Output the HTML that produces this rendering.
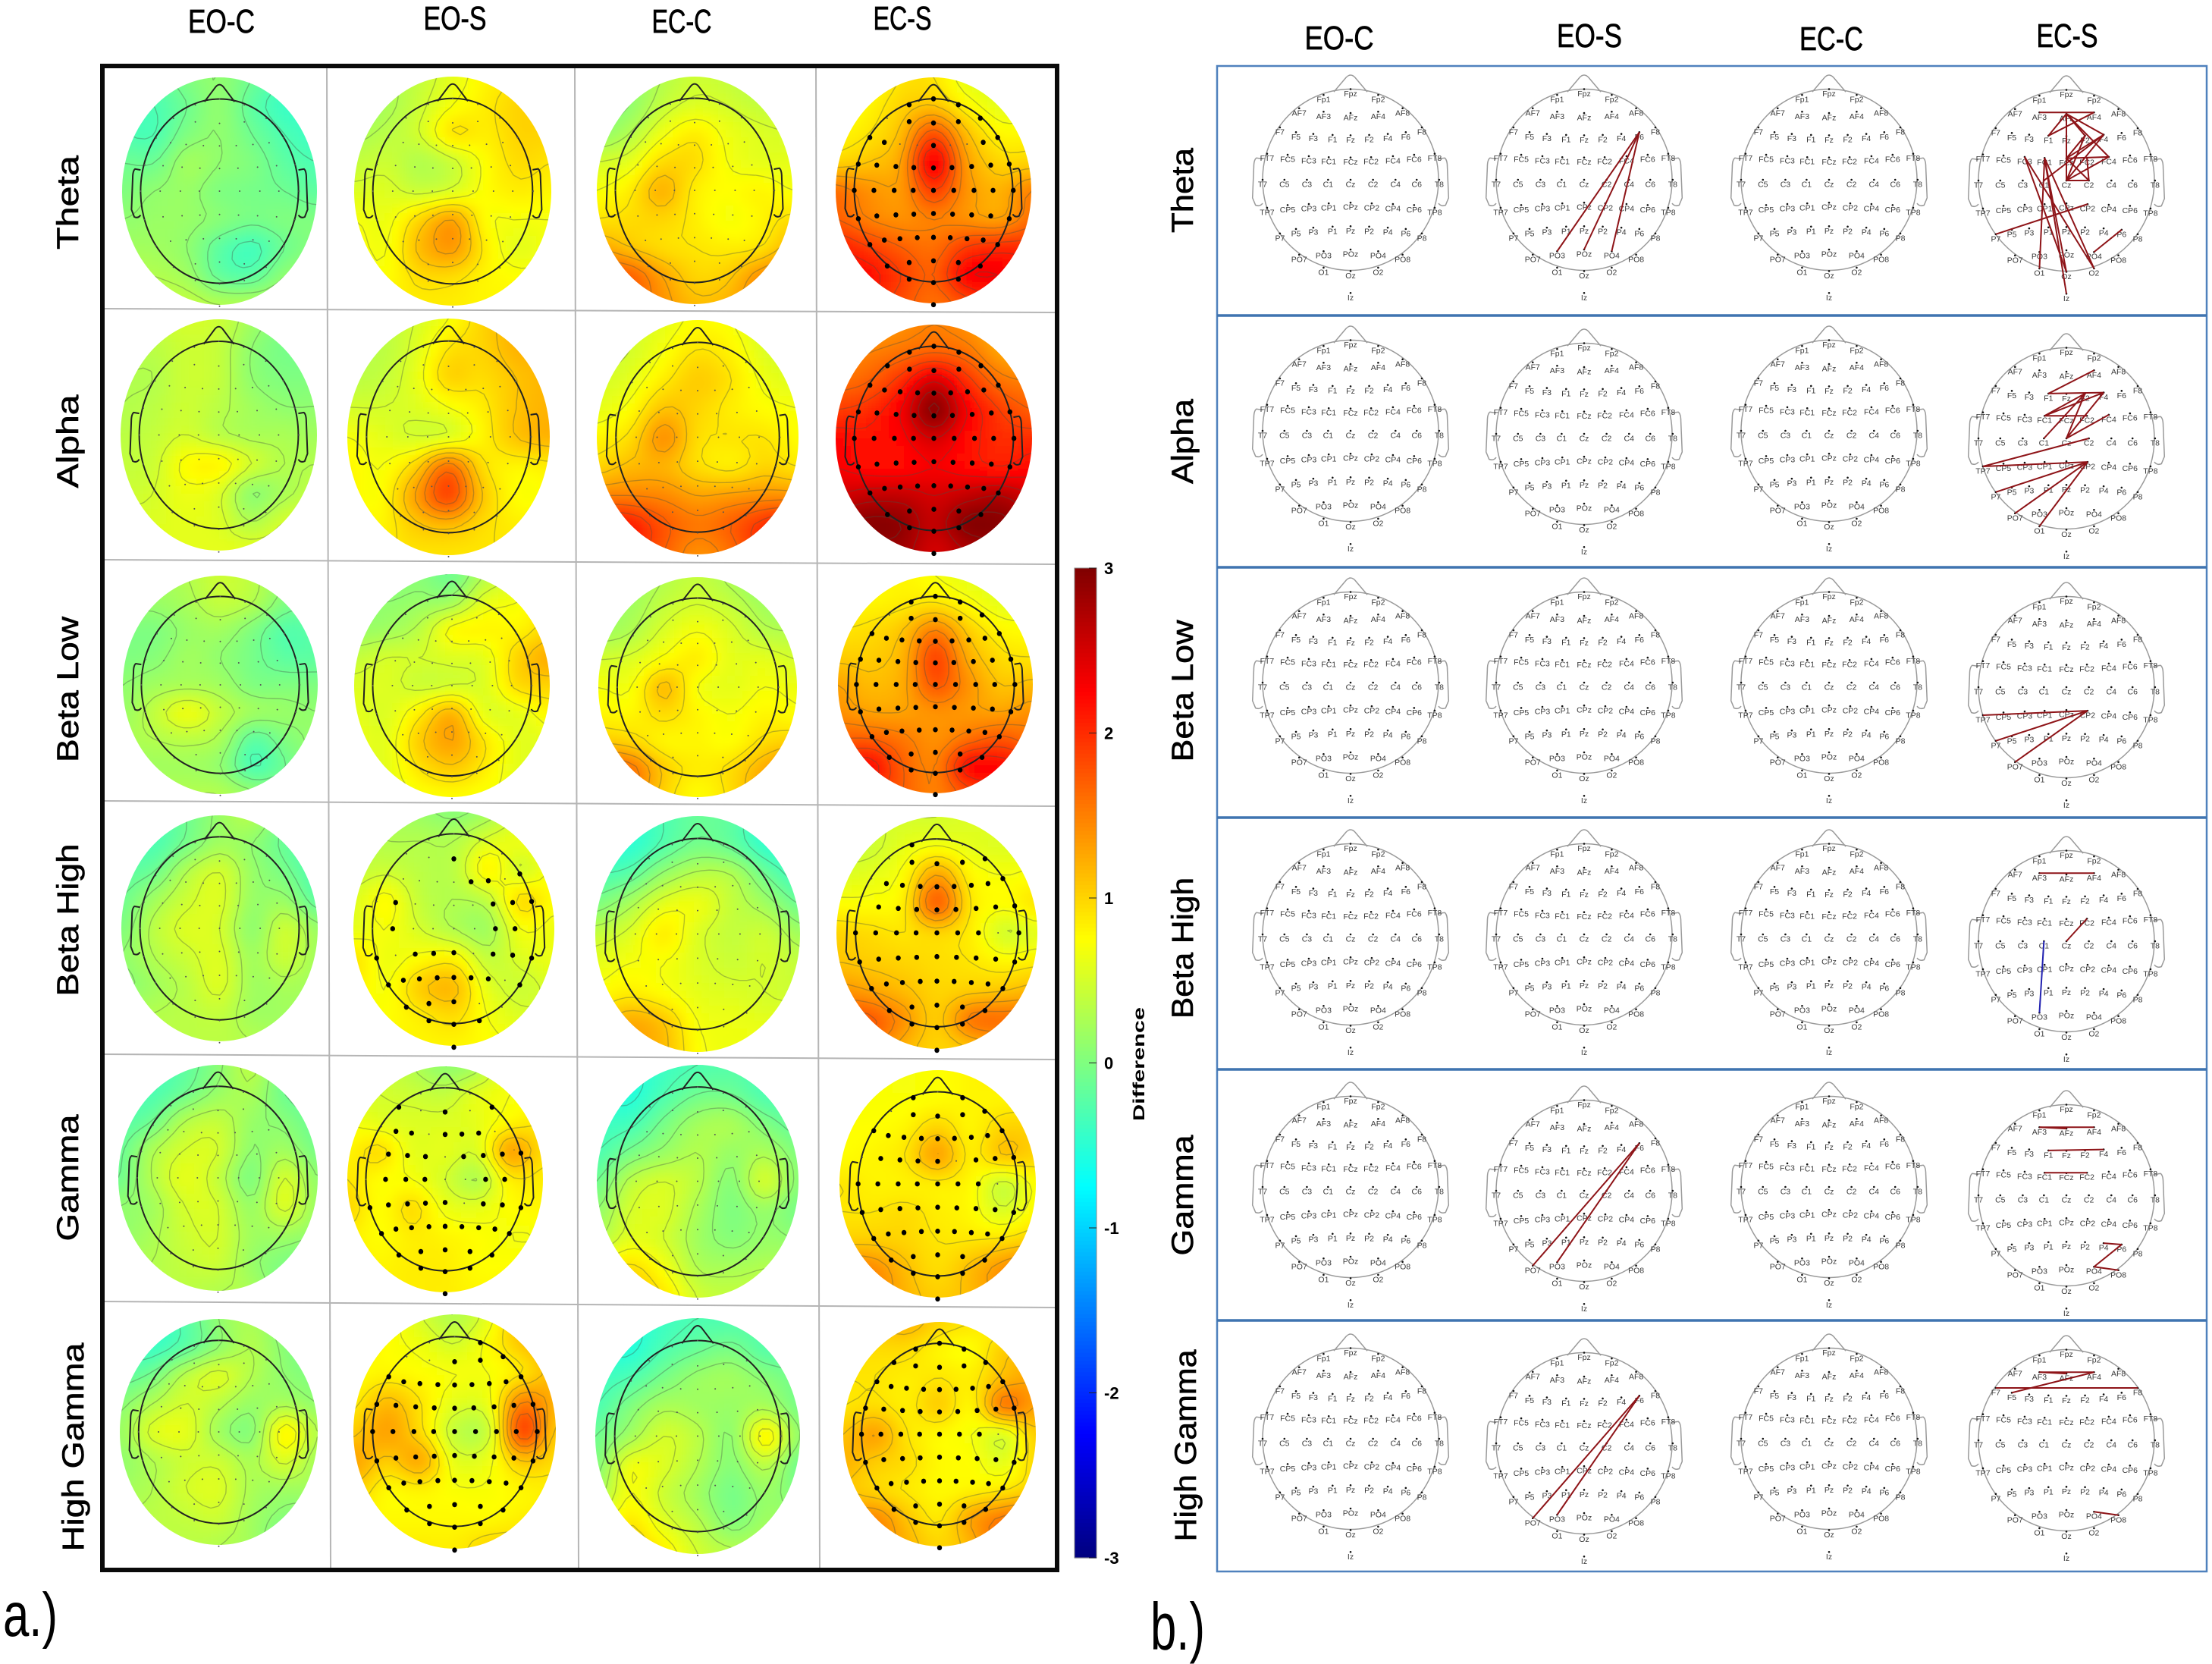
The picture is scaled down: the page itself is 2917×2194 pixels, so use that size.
<!DOCTYPE html>
<html lang="en">
<head>
<meta charset="utf-8">
<title>EEG topographic maps and connectivity</title>
<style>
html,body{margin:0;padding:0;background:#fff;width:2917px;height:2194px;overflow:hidden}
svg{display:block;font-family:"Liberation Sans",sans-serif}
</style>
</head>
<body>
<svg id="figure" xmlns="http://www.w3.org/2000/svg" width="2917" height="2194" viewBox="0 0 2917 2194">
<defs>
<filter id="soften" x="-10%" y="-10%" width="120%" height="120%"><feGaussianBlur stdDeviation="4"/></filter>
</defs>
<rect width="2917" height="2194" fill="#fff"/>
<text x="4" y="2157" font-size="82" textLength="72" lengthAdjust="spacingAndGlyphs">a.)</text>
<text x="1517" y="2175" font-size="88" textLength="72" lengthAdjust="spacingAndGlyphs">b.)</text>
<text transform="translate(1509,1403) rotate(-90)" text-anchor="middle" font-size="21" font-weight="bold" textLength="150" lengthAdjust="spacingAndGlyphs">Difference</text>
<g id="panelA"></g>
<g id="panelB"></g>
<g id="colorbar"></g>
</svg>
<script>
// ---- categories ----
const bands = ['Theta','Alpha','Beta Low','Beta High','Gamma','High Gamma'];
const conditions = ['EO-C','EO-S','EC-C','EC-S'];
const colorbarTicks = [3,2,1,0,-1,-2,-3];
const electrodeNames = ['Fp1','Fpz','Fp2','AF7','AF3','AFz','AF4','AF8','F7','F5','F3','F1','Fz','F2','F4','F6','F8','FT7','FC5','FC3','FC1','FCz','FC2','FC4','FC6','FT8','T7','C5','C3','C1','Cz','C2','C4','C6','T8','TP7','CP5','CP3','CP1','CPz','CP2','CP4','CP6','TP8','P7','P5','P3','P1','Pz','P2','P4','P6','P8','PO7','PO3','POz','PO4','PO8','O1','Oz','O2','Iz'];

// ---- topomap values: difference sampled on a 7-column by 9-row grid ----
const thetaEOC=[[-.2,-.2,0,.1,-.1,-.3,-.3],[-.3,-.3,-.1,.1,-.2,-.4,-.4],[-.3,-.3,0,.1,-.1,-.3,-.4],[-.1,-.1,.2,.1,0,-.2,-.3],[0,.1,.15,0,-.05,-.1,-.2],[.1,.15,.15,.05,-.05,0,0],[.2,.2,.1,-.2,-.35,-.1,.05],[.3,.3,.2,-.15,-.2,.1,.2],[.4,.4,.4,.3,.3,.3,.3]];
const thetaEOS=[[.15,.25,.4,.6,.8,.9,.9],[.15,.25,.45,.7,.85,1,1],[.25,.35,.5,.9,.85,1,1],[.4,.45,.3,.45,.75,.95,.9],[.55,.55,.45,.55,.75,.85,.8],[.7,.65,1,1.3,.75,.7,.7],[.75,.7,1.15,1.35,.85,.6,.7],[.75,.75,.95,.95,.8,.75,.75],[.85,.85,.85,.85,.8,.8,.8]];
const thetaECC=[[0,.1,.3,.45,.4,.3,.4],[0,.1,.4,.55,.5,.4,.4],[.1,.3,.65,.85,.65,.55,.5],[.5,.6,.95,.95,.7,.6,.6],[.7,.85,1.2,.85,.75,.8,.7],[.9,.95,1,.85,.7,.8,.95],[1.3,1.1,.95,.9,.85,.9,1.2],[1.8,1.7,1.3,1,1.05,1.4,1.6],[1.8,1.7,1.4,1.15,1.2,1.5,1.6]];
const thetaECS=[[.7,.7,.9,.9,.6,.5,.5],[.7,.8,1,1.1,.8,.6,.6],[.8,.9,1.15,1.8,1.15,.8,.8],[1,1.1,1.3,2.3,1.35,1,1],[1.6,1.4,1.35,1.9,1.4,1.2,1.5],[1.7,1.5,1.4,1.5,1.4,1.3,1.6],[2.1,1.9,1.7,1.6,1.9,2,2],[2.3,2.2,1.9,1.7,2.25,2.3,2.2],[2.3,2.1,1.8,1.6,1.8,2.1,2.2]];
const alphaEOC=[[.4,.4,.5,.45,.2,0,0],[.35,.35,.45,.4,.1,-.05,-.05],[.3,.3,.45,.4,.1,0,0],[.3,.35,.45,.35,.2,.1,.1],[.35,.4,.5,.35,.25,.25,.2],[.4,.45,.75,.8,.5,.3,.3],[.45,.5,.65,.55,.1,.25,.4],[.55,.55,.6,.55,.3,.5,.55],[.6,.6,.6,.6,.6,.6,.6]];
const alphaEOS=[[.3,.35,.5,.7,1,1.2,1.2],[.35,.35,.55,.9,1,1.2,1.2],[.35,.4,.6,1,.95,1.1,1.2],[.5,.5,.55,.7,.85,1.1,1.2],[.7,.6,.5,.55,.8,1.1,1.2],[.8,.7,1,1.6,.95,.8,.85],[.8,.75,1.3,1.85,1.1,.75,.75],[.85,.8,1.05,1.15,.95,.85,.85],[.9,.9,.9,.9,.9,.9,.9]];
const alphaECC=[[.45,.5,.6,.75,.7,.5,.45],[.45,.5,.7,.9,.8,.55,.45],[.5,.6,.85,1.05,.9,.65,.55],[.6,.75,1.1,1,.85,.75,.7],[.8,.95,1.4,.95,.9,.9,.75],[1,1.15,1.2,.95,.85,1,.9],[1.5,1.5,1.45,1.3,1.35,1.4,1.4],[2.2,2.1,1.75,1.55,1.7,2,2.2],[2.2,2.1,1.7,1.4,1.6,2,2.2]];
const alphaECS=[[1.3,1.3,1.4,1.5,1.4,1.2,1.2],[1.4,1.5,1.6,1.7,1.6,1.3,1.2],[1.6,1.7,2,2.5,2,1.6,1.5],[1.9,2,2.3,2.95,2.3,1.9,1.7],[2.2,2.15,2.25,2.5,2.2,2,2],[2.3,2.2,2.2,2.3,2.2,2.1,2.2],[2.5,2.6,2.6,2.5,2.6,2.7,2.5],[2.8,2.95,2.9,2.6,2.95,2.95,2.8],[2.6,2.8,2.8,2.5,2.7,2.8,2.6]];
const betaLowEOC=[[.2,.2,.3,.45,.35,.1,0],[.15,.15,.25,.4,.3,0,-.1],[0,0,.15,.2,0,-.25,-.2],[0,.05,.2,.1,-.05,-.2,-.2],[.1,.2,.25,.2,0,0,0],[.15,.4,.65,.4,.2,.15,.1],[.25,.3,.35,.25,-.2,0,.15],[.2,.2,.2,.1,-.3,-.1,.1],[.3,.3,.3,.3,.15,.1,.1]];
const betaLowEOS=[[0,0,.05,-.1,.3,.5,.5],[.1,.1,.15,.2,.6,.7,.8],[.15,.2,.35,.75,.8,.8,1],[.4,.5,.5,.55,.6,1,1.25],[.55,.55,.45,.5,.55,.95,1],[.6,.55,.85,1.2,.6,.6,.8],[.65,.6,1.05,1.3,.9,.6,.6],[.6,.6,.9,1.05,.85,.6,.6],[.6,.6,.7,.75,.7,.65,.6]];
const betaLowECC=[[.1,.15,.3,.4,.25,.05,0],[.15,.2,.4,.5,.4,.2,.1],[.2,.3,.55,.7,.55,.35,.3],[.5,.55,.75,.85,.6,.6,.5],[.7,.7,1.15,.7,.6,.7,.65],[.8,.8,.95,.8,.7,.8,.75],[1.1,1,.8,.8,.75,.95,1.05],[1.8,1.6,1.05,.85,.95,1.25,1.5],[1.8,1.5,1,.75,.95,1.3,1.5]];
const betaLowECS=[[.75,.75,.8,.7,.6,.55,.5],[.8,.8,.85,.9,.75,.6,.6],[.9,.95,1.1,1.5,1.05,.8,.75],[1.05,1.05,1.2,1.85,1.25,.95,.9],[1.3,1.15,1.25,1.75,1.4,1.1,1.15],[1.4,1.3,1.3,1.4,1.35,1.3,1.4],[1.7,1.7,1.55,1.4,1.6,1.75,1.6],[2.1,2.2,1.7,1.5,2.2,2.2,2],[2,2,1.7,1.5,1.8,2,2]];
const betaHighEOC=[[-.3,-.3,-.1,.15,.3,-.1,-.2],[-.3,-.3,-.05,.2,.1,-.15,-.3],[-.2,-.1,.3,.5,.15,-.05,-.3],[-.1,.2,.45,.55,.15,.15,-.2],[0,.35,.55,.5,.1,.45,.15],[.1,.3,.45,.55,.2,.45,.2],[.05,.2,.35,.55,.2,.25,.2],[.25,.3,.35,.4,.2,.2,.2],[.35,.35,.35,.35,.3,.25,.25]];
const betaHighEOS=[[.3,.25,.15,.05,.2,.5,.6],[.35,.3,.3,.3,.55,.65,.7],[.4,.45,.35,.35,.8,.5,.75],[.55,.75,.4,.3,.4,.95,.75],[.6,.7,.5,.3,.2,.7,.65],[.9,.65,.75,.8,.4,.55,.65],[.85,.7,1.05,1.15,.6,.45,.55],[.75,.75,.85,.95,.7,.55,.55],[.8,.8,.8,.8,.75,.7,.7]];
const betaHighECC=[[-.5,-.5,-.3,-.15,-.2,-.5,-.5],[-.5,-.5,-.25,-.05,-.15,-.45,-.5],[-.3,-.2,.15,.35,.3,-.1,-.4],[0,.25,.6,.65,.4,.2,-.1],[.4,.55,.85,.55,.4,.45,.2],[.6,.7,.7,.55,.45,.5,.4],[.75,.85,.75,.6,.55,.5,.45],[1,1.25,1.1,.7,.65,.6,.6],[1.2,1.3,1.15,.75,.65,.7,.6]];
const betaHighECS=[[.5,.5,.5,.5,.55,.6,.6],[.45,.45,.6,.7,.6,.55,.55],[.55,.6,.75,1.3,.8,.7,.75],[.75,.75,.85,1.7,.9,.75,.9],[1,.95,.9,1,.85,.5,.6],[1.1,1.05,1,.95,.9,.8,.85],[1.4,1.3,1.15,1,1.05,1.1,1.2],[1.8,1.75,1.4,1.05,1.55,1.6,1.6],[1.8,1.6,1.2,1,1.1,1.3,1.4]];
const gammaEOC=[[-.3,-.35,-.2,.05,.35,-.1,-.2],[-.3,-.3,-.1,.15,.25,-.1,-.2],[-.25,-.1,.3,.4,.15,.05,-.15],[-.15,.25,.5,.5,.1,.2,-.05],[-.1,.3,.6,.4,0,.5,.1],[.1,.2,.5,.5,.15,.55,.15],[.1,.25,.45,.5,.2,.2,.1],[.25,.3,.4,.45,.15,0,-.1],[.35,.35,.35,.3,.25,-.05,-.1]];
const gammaEOS=[[.5,.45,.3,.1,.25,.7,.75],[.55,.5,.45,.4,.6,.7,.75],[.7,.6,.55,.55,.6,.8,.9],[.8,.95,.6,.6,.55,1.3,.95],[.9,.75,.7,.5,.3,.85,.85],[1,.75,.95,.65,.6,.75,.8],[.85,.75,.85,.8,.75,.7,.7],[.85,.8,.85,.85,.75,.75,.75],[.85,.85,.85,.85,.8,.8,.8]];
const gammaECC=[[-.5,-.55,-.4,-.3,-.25,-.3,-.3],[-.5,-.55,-.3,-.1,-.1,-.3,-.3],[-.4,-.35,-.05,.2,.25,0,-.2],[-.3,-.05,.15,.3,.15,.25,0],[-.1,.35,.5,.35,.05,.5,.05],[.1,.5,.55,.25,0,.15,-.05],[.3,.6,.5,.2,.05,.15,.1],[.8,.95,.7,.3,.25,.3,.3],[1,1.1,.9,.5,.4,.45,.45]];
const gammaECS=[[.8,.75,.7,.75,.8,.9,.9],[.72,.72,.72,.75,.8,.8,.85],[.75,.75,.8,1,.8,1,1],[.75,.8,.9,1.3,.85,1.1,1],[.9,.82,.82,.85,.78,.45,.75],[.9,.9,.95,.85,.78,.55,.8],[1.05,1.05,1,.9,.9,.95,1.05],[1.55,1.45,1.15,.95,1.15,1.4,1.6],[1.6,1.5,1.2,1.05,1.15,1.4,1.6]];
const highGammaEOC=[[-.4,-.45,-.25,.1,.25,-.05,-.1],[-.4,-.4,-.2,.1,.3,.05,-.1],[-.2,-.05,.35,.55,.3,.1,0],[.05,.3,.5,.35,.15,.25,.1],[.15,.55,.6,.2,.05,.8,.3],[.1,.3,.45,.45,.25,.55,.2],[.2,.3,.5,.55,.25,.2,.2],[.3,.35,.4,.45,.2,.05,0],[.35,.35,.35,.3,.2,-.1,-.15]];
const highGammaEOS=[[.9,.8,.5,.3,.6,1.2,1.3],[.85,.75,.65,.5,.75,1.1,1.3],[.75,.8,.75,.7,.7,.9,1.2],[.85,1.15,.9,.6,.65,1.5,1.2],[1.05,1.3,.95,.4,.45,1.85,1.05],[1.3,1.05,1.25,.6,.65,1.1,.95],[1.05,.78,.82,.72,.72,.8,.85],[.8,.78,.78,.78,.78,.85,.9],[.9,.85,.85,.85,1,1,1]];
const highGammaECC=[[-.55,-.55,-.4,-.3,-.3,-.2,-.2],[-.5,-.55,-.3,-.15,-.05,-.25,-.2],[-.4,-.3,-.05,.15,.2,.05,-.1],[-.3,0,.25,.2,.15,.25,-.05],[-.1,.2,.5,.35,.1,.8,.1],[0,.65,.55,.3,.05,.35,-.1],[.2,.7,.45,.2,-.05,.15,0],[.6,.9,.6,.35,.05,.2,.2],[1,1.1,.85,.5,.35,.35,.35]];
const highGammaECS=[[1,1.1,1.2,1,.9,.8,.8],[.95,.95,.95,.8,.75,1.05,1.1],[.9,.9,.85,.9,.85,1.15,1.3],[.9,.95,.85,1.05,.8,1.55,1.3],[1.1,1.3,.9,.78,.7,.55,1.05],[1.2,1.05,.95,.78,.75,.6,1],[1.1,1,.88,.78,.82,.9,1.05],[1.4,1.45,1.1,.88,1.3,1.55,1.7],[1.5,1.5,1.2,1,1.2,1.7,1.9]];
const topoValues=[[thetaEOC,thetaEOS,thetaECC,thetaECS],[alphaEOC,alphaEOS,alphaECC,alphaECS],[betaLowEOC,betaLowEOS,betaLowECC,betaLowECS],[betaHighEOC,betaHighEOS,betaHighECC,betaHighECS],[gammaEOC,gammaEOS,gammaECC,gammaECS],[highGammaEOC,highGammaEOS,highGammaECC,highGammaECS]];

// ---- electrodes that did NOT reach significance, per map (null = no significance markers) ----
const nonSignificant=[
 [null,null,null,['AF7','F3','F1','F2','F4']],
 [null,null,null,[]],
 [null,null,null,['AF7']],
 [null,['Fp1','Fpz','Fp2','AF7','AF3','AF4','AF8','F7','F5','F3','F1','Fz','F6','FT7','FC3','FC1','FCz','FC2','T7','C3','C1','Cz','C2','T8','CP5','CP2','P6','PO4','PO8'],null,['Fpz','Fp2','AF7','F7','FT7','C6']],
 [null,['Fp1','Fpz','Fp2','AF3','AF4','F7','F1','F6','F8','FT7','FCz','T7','Cz','C2','T8','CP2'],null,['Fpz','AF7','FT7','FC2','C6','T8']],
 [null,['Fp1','Fpz','AF7','AF3'],null,['C6','T8']]
];

// ---- significant connections, per band and condition ----
const connThetaEOS=[['F6','PO3'],['F6','POz'],['F6','PO4']];
const connThetaECS=[['AF3','AF4'],['AFz','F1'],['AF4','F1'],['AFz','F2'],['AFz','F4'],['AFz','FC4'],['AFz','Cz'],['F2','FCz'],['F4','FCz'],['F2','Cz'],['F4','Cz'],['FCz','FC4'],['FC4','Cz'],['Cz','C2'],['FC2','C2'],['FCz','C2'],['F4','C1'],['FC3','O2'],['FC3','Oz'],['FC1','O1'],['FC1','Oz'],['FC1','Iz'],['FC1','O2'],['P7','CP2'],['PO4','P6']];
const connAlphaECS=[['F1','AF4'],['F1','F4'],['F4','FC1'],['F2','FC1'],['F2','Cz'],['F2','C1'],['F4','Cz'],['FC1','FC2'],['FC4','Cz'],['C2','TP7'],['TP7','CP2'],['P7','CP2'],['PO7','CP2'],['O1','CP2']];
const connBetaLowECS=[['TP7','CP2'],['P7','CP2'],['PO7','CP2']];
const connBetaHighECS=[['AF3','AF4'],['FC2','Cz']];
const connBetaHighECSNegative=[['C1','PO3']];
const connGammaEOS=[['F6','PO7'],['F6','PO3']];
const connGammaECS=[['AF3','AF4'],['AF3','AFz'],['F1','F4'],['FC1','FC2'],['P4','P6'],['P6','PO4'],['PO4','PO8']];
const connHighGammaEOS=[['F6','PO7'],['F6','PO3']];
const connHighGammaECS=[['AF3','AF4'],['AF3','AFz'],['AF4','F5'],['F7','F8'],['PO4','PO8']];
const connections=[[[],connThetaEOS,[],connThetaECS],[[],[],[],connAlphaECS],[[],[],[],connBetaLowECS],[[],[],[],connBetaHighECS],[[],connGammaEOS,[],connGammaECS],[[],connHighGammaEOS,[],connHighGammaECS]];
const negativeConnections=[[[],[],[],[]],[[],[],[],[]],[[],[],[],[]],[[],[],[],connBetaHighECSNegative],[[],[],[],[]],[[],[],[],[]]];

// ---- layout (separate from data) ----
const electrodeLayout={Fp1:[173,148],Fpz:[215,131],Fp2:[258,148],AF7:[135,187],AF3:[173,197],AFz:[215,201],AF4:[258,197],AF8:[296,187],F7:[105,243],F5:[130,257],F3:[157,262],F1:[187,265],Fz:[215,266],F2:[244,265],F4:[273,262],F6:[301,257],F8:[326,243],FT7:[85,320],FC5:[117,323],FC3:[150,327],FC1:[181,330],FCz:[215,331],FC2:[247,330],FC4:[281,327],FC6:[314,323],FT8:[346,320],T7:[78,396],C5:[112,396],C3:[147,396],C1:[180,396],Cz:[215,396],C2:[250,396],C4:[285,396],C6:[318,396],T8:[353,396],TP7:[85,478],CP5:[117,470],CP3:[150,467],CP1:[181,465],CPz:[215,463],CP2:[248,465],CP4:[281,467],CP6:[314,470],TP8:[346,478],P7:[105,553],P5:[130,540],P3:[157,536],P1:[187,533],Pz:[215,532],P2:[244,533],P4:[273,536],P6:[301,540],P8:[326,553],PO7:[135,615],PO3:[173,605],POz:[215,600],PO4:[258,605],PO8:[296,615],O1:[173,653],Oz:[215,663],O2:[258,653],Iz:[215,727]};
const topoBoxes=[
 [[161,418,102,402],[467,727,101,403],[787,1045,101,401],[1102,1360,102,400]],
 [[159,418,421,726],[458,725,420,732],[787,1053,422,731],[1102,1361,428,728]],
 [[162,419,759,1047],[467,725,757,1051],[789,1051,761,1051],[1105,1362,759,1046]],
 [[160,419,1075,1373],[466,731,1070,1379],[785,1055,1076,1387],[1103,1368,1077,1383]],
 [[156,419,1404,1702],[458,716,1406,1704],[787,1053,1404,1711],[1107,1366,1411,1711]],
 [[158,419,1739,2037],[466,733,1733,2042],[785,1055,1738,2049],[1112,1366,1743,2039]]
];
const netCenterX=[1781,2089,2412,2725];
const netCenterY=[[237,237,237,238],[568,572,568,578],[900,900,900,906],[1232,1232,1232,1241],[1565,1570,1565,1576],[1897,1903,1897,1899]];

const NS='http://www.w3.org/2000/svg';
function el(parent,tag,attrs,text){
  const e=document.createElementNS(NS,tag);
  for(const k in attrs)e.setAttribute(k,attrs[k]);
  if(text!==undefined)e.textContent=text;
  parent.appendChild(e);
  return e;
}
// colour axis: jet, -3..3
function colorScale(v){
  const t=Math.max(0,Math.min(1,(v+3)/6));
  const f=(x)=>Math.round(255*Math.max(0,Math.min(1,x)));
  const r=Math.min(4*t-1.5,-4*t+4.5), g=Math.min(4*t-.5,-4*t+3.5), b=Math.min(4*t+.5,-4*t+2.5);
  return 'rgb('+f(r)+','+f(g)+','+f(b)+')';
}
function catmull(a,b,c,d,t){return .5*(2*b+(c-a)*t+(2*a-5*b+4*c-d)*t*t+(3*b-a-3*c+d)*t*t*t);}
function sampleField(m,nx,ny){
  const R=m.length,C=m[0].length;
  const u=Math.max(0,Math.min(C-1.0001,(nx+1)/2*(C-1))),v=Math.max(0,Math.min(R-1.0001,(ny+1)/2*(R-1)));
  const i=Math.floor(u),j=Math.floor(v),fu=u-i,fv=v-j;
  const at=(r,c)=>m[Math.max(0,Math.min(R-1,r))][Math.max(0,Math.min(C-1,c))];
  const rows=[];
  for(let r=-1;r<=2;r++)rows.push(catmull(at(j+r,i-1),at(j+r,i),at(j+r,i+1),at(j+r,i+2),fu));
  return catmull(rows[0],rows[1],rows[2],rows[3],fv);
}
const contourLevels=[-.7,-.5,-.3,-.1,.1,.3,.5,.7,.9,1.1,1.3,1.5,1.7,1.9,2.1,2.3,2.5,2.7,2.9];
function contourPath(grid,x0,y0,step){
  let d='';
  const lerp=(a,b,l)=>(l-a)/(b-a);
  for(const l of contourLevels){
    for(let j=0;j<grid.length-1;j++)for(let i=0;i<grid[0].length-1;i++){
      const a=grid[j][i],b=grid[j][i+1],c=grid[j+1][i+1],e=grid[j+1][i];
      const pts=[];
      if((a<l)!==(b<l))pts.push([i+lerp(a,b,l),j]);
      if((b<l)!==(c<l))pts.push([i+1,j+lerp(b,c,l)]);
      if((e<l)!==(c<l))pts.push([i+lerp(e,c,l),j+1]);
      if((a<l)!==(e<l))pts.push([i,j+lerp(a,e,l)]);
      for(let k=0;k+1<pts.length;k+=2){
        d+='M'+(x0+pts[k][0]*step).toFixed(1)+' '+(y0+pts[k][1]*step).toFixed(1)+'L'+(x0+pts[k+1][0]*step).toFixed(1)+' '+(y0+pts[k+1][1]*step).toFixed(1);
      }
    }
  }
  return d;
}
function headOutlinePaths(g,cx,cy,rx,ry,stroke,width){
  const X=v=>(cx+v*rx).toFixed(1),Y=v=>(cy+v*ry).toFixed(1);
  const nose=el(g,'path',{d:'M'+X(-.19)+' '+Y(-.97)+'L'+X(-.05)+' '+Y(-1.13)+'Q'+X(0)+' '+Y(-1.18)+' '+X(.05)+' '+Y(-1.13)+'L'+X(.19)+' '+Y(-.97),fill:'none',stroke:stroke,'stroke-width':width});
  
  
  for(const s of [-1,1]){
    const ear=el(g,'path',{d:'M'+X(s*1)+' '+Y(-.23)+'L'+X(s*1.07)+' '+Y(-.24)+'Q'+X(s*1.1)+' '+Y(-.22)+' '+X(s*1.1)+' '+Y(-.14)+'L'+X(s*1.115)+' '+Y(.2)+'L'+X(s*1.08)+' '+Y(.28)+'Q'+X(s*1.03)+' '+Y(.3)+' '+X(s*1)+' '+Y(.26),fill:'none',stroke:stroke,'stroke-width':width});
    
    
  }
  const head=el(g,'ellipse',{cx:cx,cy:cy,rx:rx,ry:ry,fill:'none',stroke:stroke,'stroke-width':width});
  
  
}
const eX=n=>(electrodeLayout[n][0]-215)/137;
const eY=n=>(electrodeLayout[n][1]-396)/265;

// ---- Panel a ----
const panelA=document.getElementById('panelA');
const defs=document.querySelector('defs');
const CELL=10;
bands.forEach((band,r)=>{
  conditions.forEach((cond,c)=>{
    const box=topoBoxes[r][c],x0=box[0],x1=box[1],y0=box[2],y1=box[3];
    const cx=(x0+x1)/2,cy=(y0+y1)/2,Rx=(x1-x0)/2,Ry=(y1-y0)/2;
    const clipId='clip-'+r+'-'+c;
    const cp=el(defs,'clipPath',{id:clipId});
    el(cp,'ellipse',{cx:cx,cy:cy,rx:Rx,ry:Ry});
    const g=el(panelA,'g',{});
    
    
    const clipped=el(g,'g',{'clip-path':'url(#'+clipId+')'});
    const blurred=el(clipped,'g',{filter:'url(#soften)'});
    const m=topoValues[r][c];
    const sx=x0-20,sy=y0-20,nCols=Math.ceil((x1-x0+40)/CELL),nRows=Math.ceil((y1-y0+40)/CELL);
    const grid=[];
    for(let j=0;j<=nRows;j++){
      const row=[];
      for(let i=0;i<=nCols;i++){
        row.push(sampleField(m,(sx+i*CELL-cx)/Rx,(sy+j*CELL-cy)/Ry));
      }
      grid.push(row);
    }
    for(let j=0;j<nRows;j++)for(let i=0;i<nCols;i++){
      const v=(grid[j][i]+grid[j][i+1]+grid[j+1][i]+grid[j+1][i+1])/4;
      const cell=el(blurred,'rect',{x:sx+i*CELL,y:sy+j*CELL,width:CELL+.6,height:CELL+.6,fill:colorScale(v)});
      
      
    }
    const contour=el(clipped,'path',{d:contourPath(grid,sx,sy,CELL),fill:'none',stroke:'rgba(70,80,70,.36)','stroke-width':1.4});
    
    
    const hrx=Rx*.81,hry=Ry*.81;
    headOutlinePaths(g,cx,cy,hrx,hry,'#222',2);
    const omit=nonSignificant[r][c];
    electrodeNames.forEach(name=>{
      const sig=omit!==null&&omit.indexOf(name)<0;
      const dot=el(g,'ellipse',{cx:cx+eX(name)*hrx,cy:cy+eY(name)*hry,rx:sig?3.2:1,ry:sig?3.4:1,fill:sig?'#000':'#555'});
      
      
    });
  });
});
// left frame + grid lines
const gridLinesA=[[431,87,436,2070],[758,87,763,2070],[1076,87,1081,2070],[135,407,1392,412],[135,738,1392,744],[135,1056,1392,1063],[135,1390,1392,1397],[135,1716,1392,1724]];
gridLinesA.forEach(p=>{
  const l=el(panelA,'line',{x1:p[0],y1:p[1],x2:p[2],y2:p[3],stroke:'#b5b5b5','stroke-width':2});
  
  
});
const frameA=el(panelA,'rect',{x:135,y:87,width:1259,height:1983,fill:'none',stroke:'#0a0a0a','stroke-width':6});



const colTitlesA=[[292,43,88],[600,39,83],[899,43,79],[1190,39,77]];
conditions.forEach((cond,c)=>{
  const t=el(panelA,'text',{x:colTitlesA[c][0],y:colTitlesA[c][1],'text-anchor':'middle','font-size':44,stroke:'#000','stroke-width':.7,textLength:colTitlesA[c][2],lengthAdjust:'spacingAndGlyphs'},cond);
  
  
});
const rowTitlesA=[[103,267,124],[103,582,123],[103,909,192],[103,1213,201],[103,1553,167],[110,1908,275]];
bands.forEach((band,r)=>{
  const p=rowTitlesA[r];
  const t=el(panelA,'text',{transform:'translate('+p[0]+','+p[1]+') rotate(-90)','text-anchor':'middle','font-size':40,stroke:'#000','stroke-width':.6,textLength:p[2],lengthAdjust:'spacingAndGlyphs'},band);
  
  
});

// ---- Panel b ----
const panelB=document.getElementById('panelB');
const frameB=el(panelB,'rect',{x:1605,y:87,width:1305,height:1985,fill:'none',stroke:'#4f81bd','stroke-width':2.5});


[416,748,1078,1410,1741].forEach(y=>{
  const l=el(panelB,'line',{x1:1605,y1:y,x2:2910,y2:y,stroke:'#3f74b0','stroke-width':3.5});
  
  
});
const NRX=116,NRY=119.5;
bands.forEach((band,r)=>{
  conditions.forEach((cond,c)=>{
    const cx=netCenterX[c],cy=netCenterY[r][c];
    const g=el(panelB,'g',{});
    
    
    headOutlinePaths(g,cx,cy,NRX,NRY,'#9a9a9a',1.5);
    electrodeNames.forEach(name=>{
      const ex=cx+eX(name)*NRX,ey=cy+eY(name)*NRY;
      const dot=el(g,'circle',{cx:ex,cy:ey,r:1.3,fill:'#111'});
      
      
      const lab=el(g,'text',{x:ex,y:ey+9.5,'text-anchor':'middle','font-size':10.5,fill:'#3a3a3a'},name);
      
      
    });
    connections[r][c].forEach(pair=>{
      const l=el(g,'line',{x1:cx+eX(pair[0])*NRX,y1:cy+eY(pair[0])*NRY,x2:cx+eX(pair[1])*NRX,y2:cy+eY(pair[1])*NRY,stroke:'#8e1418','stroke-width':2});
      
      
    });
    negativeConnections[r][c].forEach(pair=>{
      const l=el(g,'line',{x1:cx+eX(pair[0])*NRX,y1:cy+eY(pair[0])*NRY,x2:cx+eX(pair[1])*NRX,y2:cy+eY(pair[1])*NRY,stroke:'#2222b0','stroke-width':2});
      
      
    });
  });
});
const colTitlesB=[[1766,65,91],[2096,62,86],[2415,66,84],[2726,62,81]];
conditions.forEach((cond,c)=>{
  const t=el(panelB,'text',{x:colTitlesB[c][0],y:colTitlesB[c][1],'text-anchor':'middle','font-size':44,stroke:'#000','stroke-width':.7,textLength:colTitlesB[c][2],lengthAdjust:'spacingAndGlyphs'},cond);
  
  
});
const rowTitlesB=[[1573,251,112],[1573,582,112],[1573,911,187],[1573,1250,186],[1573,1576,159],[1577,1906,253]];
bands.forEach((band,r)=>{
  const p=rowTitlesB[r];
  const t=el(panelB,'text',{transform:'translate('+p[0]+','+p[1]+') rotate(-90)','text-anchor':'middle','font-size':40,stroke:'#000','stroke-width':.6,textLength:p[2],lengthAdjust:'spacingAndGlyphs'},band);
  
  
});

// ---- Colour bar ----
const cb=document.getElementById('colorbar');
const cbTop=749,cbBottom=2054,cbLeft=1417,cbRight=1446;
const colorY=v=>cbTop+(3-v)/6*(cbBottom-cbTop);
for(let i=0;i<256;i++){
  const v=3-6*(i+.5)/256;
  const s=el(cb,'rect',{x:cbLeft,y:colorY(v)-(cbBottom-cbTop)/512,width:cbRight-cbLeft,height:(cbBottom-cbTop)/256+.6,fill:colorScale(v)});
  
  
}
const cbBorder=el(cb,'rect',{x:cbLeft,y:cbTop,width:cbRight-cbLeft,height:cbBottom-cbTop,fill:'none',stroke:'#8a8a8a','stroke-width':1});


colorbarTicks.forEach(v=>{
  const y=colorY(v);
  const tick=el(cb,'line',{x1:cbRight-10,y1:y,x2:cbRight,y2:y,stroke:'#222','stroke-width':1});
  
  
  const t=el(cb,'text',{x:1456,y:y+8,'font-size':22,'font-weight':'bold'},v<0?'-'+Math.abs(v):String(v));
  
  
});
</script>
</body>
</html>
